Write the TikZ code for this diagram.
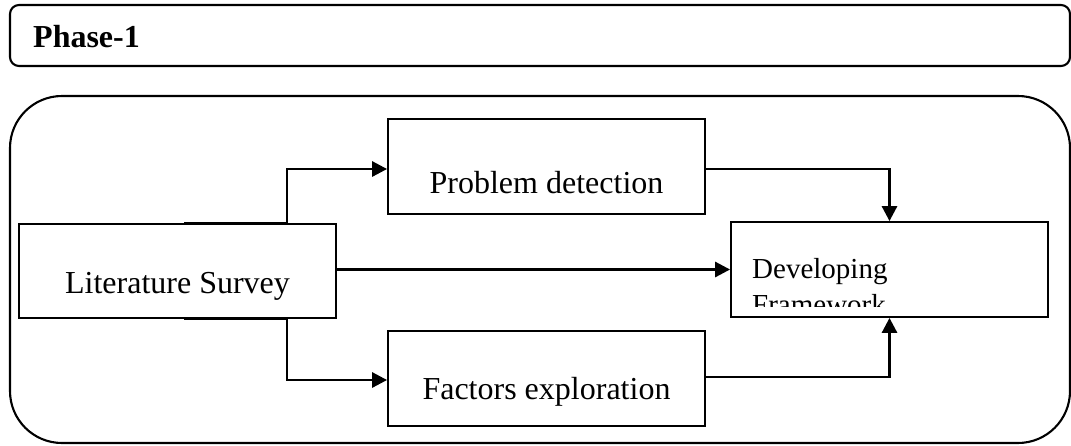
\documentclass[tikz,border=0pt]{standalone}
\usepackage{fontspec}
\setmainfont{Liberation Serif}
\usetikzlibrary{arrows.meta,calc}
\begin{document}
\begin{tikzpicture}[x=1pt,y=-1pt,
  panel/.style={draw, line width=2.1pt, rectangle, inner sep=0pt},
  box/.style={draw, line width=1.8pt, rectangle, inner sep=0pt},
  link/.style={line width=2.8pt, -{Triangle[length=15pt,width=15pt]}},
  lbl/.style={font=\fontsize{32}{38}\selectfont, anchor=base, inner sep=0pt},
  smalllbl/.style={font=\fontsize{29}{36}\selectfont, anchor=base west, inner sep=0pt}
]
\useasboundingbox (0,0) rectangle (1071,445);

% header panel
\node[panel, rounded corners=9pt, minimum width=1060pt, minimum height=61pt] (phase) at (540,35.5) {};
\node[lbl, anchor=base west, font=\fontsize{32}{38}\selectfont\bfseries] at (33,47) {Phase-1};

% main panel
\node[panel, rounded corners=52pt, minimum width=1060pt, minimum height=347pt] (main) at (540,269.5) {};

% process boxes
\node[box, minimum width=317pt, minimum height=94pt] (lit)  at (177.5,271) {};
\node[box, minimum width=317pt, minimum height=95pt] (prob) at (546.5,166.5) {};
\node[box, minimum width=317pt, minimum height=95pt] (fact) at (546.5,378.5) {};
\node[box, minimum width=317pt, minimum height=95pt] (dev)  at (889.5,269.5) {};

\node[lbl] at (177.5,293) {Literature Survey};
\node[lbl] at (546.5,193) {Problem detection};
\node[lbl] at (546.5,399) {Factors exploration};

\begin{scope}
  \clip (731,222) rectangle (1048,306);
  \node[smalllbl] at (752,278) {Developing};
  \node[smalllbl] at (752,314) {Framework};
\end{scope}

% connectors
\draw[link] ([xshift=6.5pt]lit.north) -- ++(103,0) |- ([yshift=-2.5pt]prob.west);
\draw[link] (lit.east |- dev.west) -- (dev.west);
\draw[link] ([xshift=6.5pt]lit.south) -- ++(103,0) |- ([yshift=-1.5pt]fact.west);
\draw[link] ([yshift=-2.5pt]prob.east) -| (dev.north);
\draw[link] ([yshift=1.5pt]fact.east) -| (dev.south);
\end{tikzpicture}
\end{document}
